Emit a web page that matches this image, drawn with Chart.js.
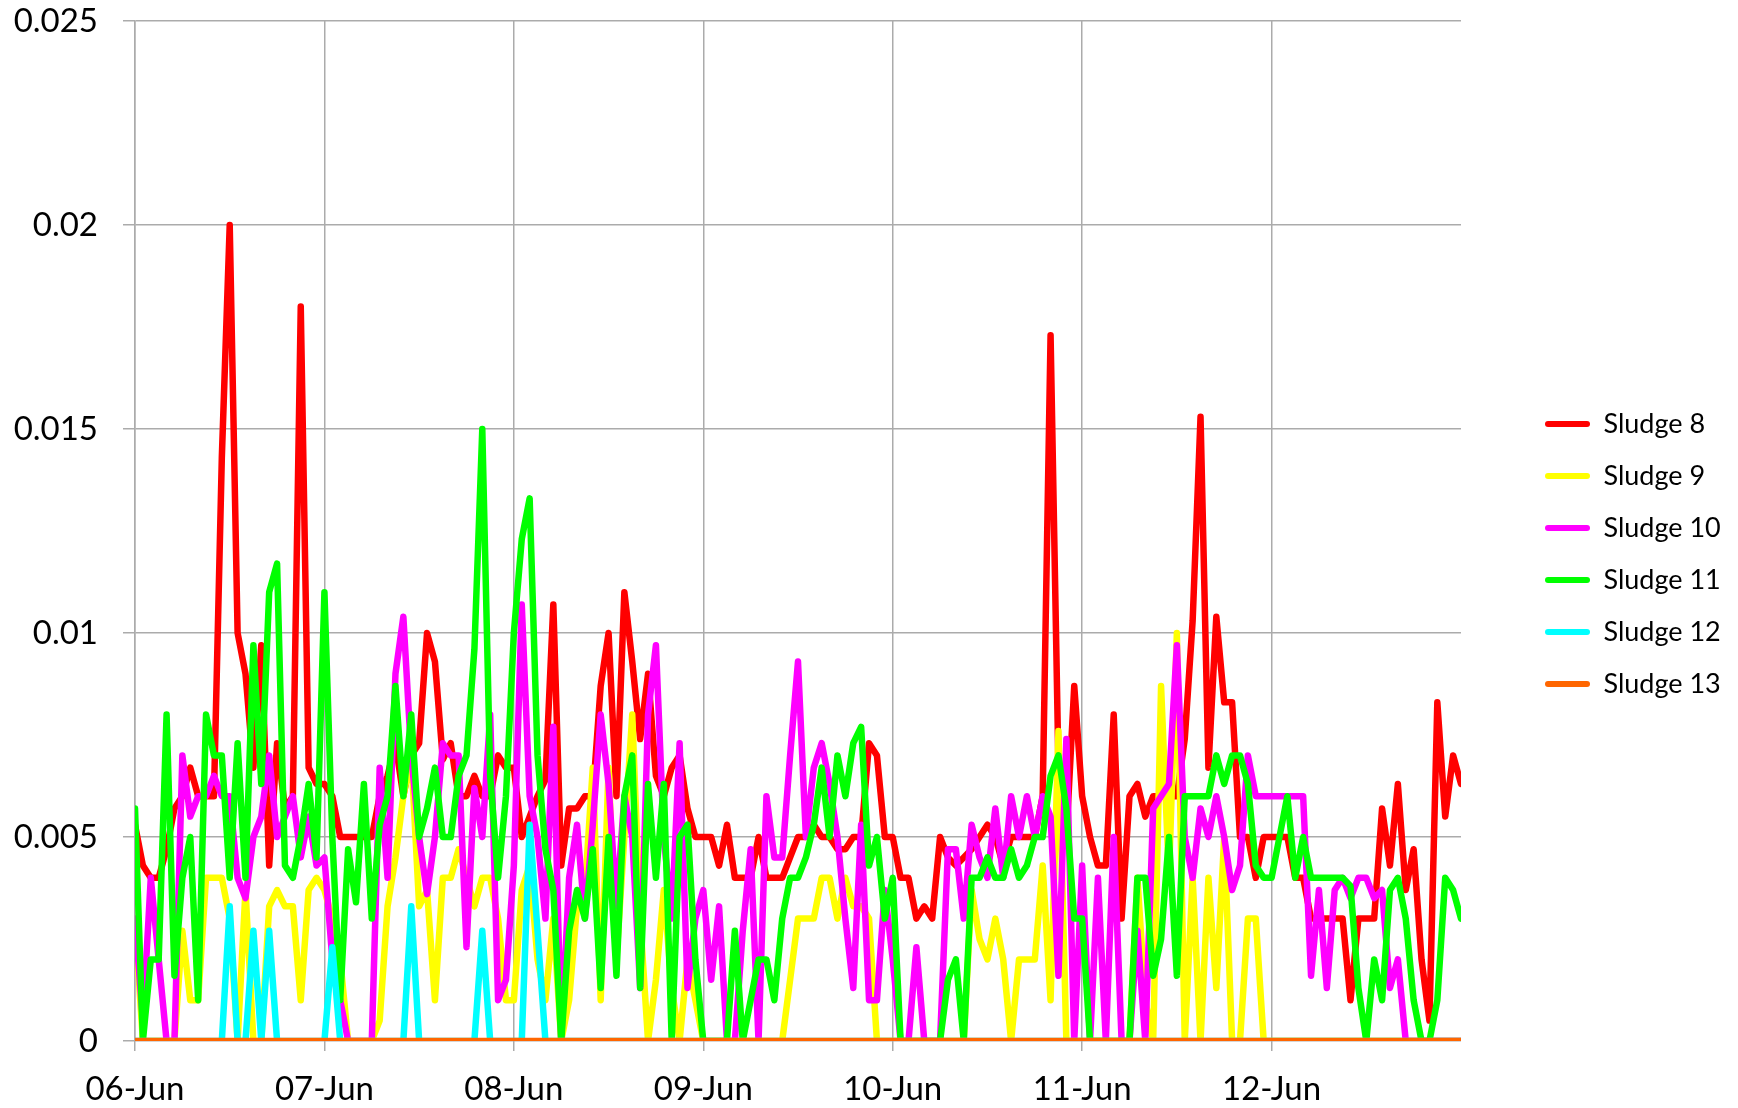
<!DOCTYPE html>
<html>
<head>
<meta charset="utf-8">
<title>Sludge 8 - 13</title>
<script src="https://cdn.jsdelivr.net/npm/chart.js@4.4.1/dist/chart.umd.min.js"></script>
<style>
  html, body { margin: 0; padding: 0; background: #fff; }
  #chart { display: block; }
</style>
</head>
<body>
<canvas id="chart" width="1738" height="1108"></canvas>
<script>
// --- Labels ---
const dayLabels = ['06-Jun', '07-Jun', '08-Jun', '09-Jun', '10-Jun', '11-Jun', '12-Jun', ''];
const yTickLabels = ['0', '0.005', '0.01', '0.015', '0.02', '0.025'];
const seriesNames = ['Sludge 8', 'Sludge 9', 'Sludge 10', 'Sludge 11', 'Sludge 12', 'Sludge 13'];
const seriesColors = ['#ff0000', '#ffff00', '#ff00ff', '#00ff00', '#00ffff', '#ff6600'];

// --- Data: hourly readings, 06-Jun 00:00 .. 13-Jun 00:00 (hour index) ---
const hours = Array.from({ length: 169 }, (_, i) => i);

const sludge8 = [
  0.0053, 0.0043, 0.004, 0.004, 0.0047, 0.0057, 0.006, 0.0067, 0.006, 0.006, 0.006, 0.0143, 0.02, 0.01, 0.009, 0.0067, 0.0097, 0.0043, 0.0073, 0.0057, 0.006, 0.018, 0.0067, 0.0063, // 06-Jun
  0.0063, 0.006, 0.005, 0.005, 0.005, 0.005, 0.005, 0.006, 0.0065, 0.0073, 0.006, 0.007, 0.0073, 0.01, 0.0093, 0.0069, 0.0073, 0.006, 0.006, 0.0065, 0.006, 0.006, 0.007, 0.0067, // 07-Jun
  0.0067, 0.005, 0.0055, 0.006, 0.0064, 0.0107, 0.0043, 0.0057, 0.0057, 0.006, 0.006, 0.0087, 0.01, 0.006, 0.011, 0.0093, 0.0074, 0.009, 0.0065, 0.006, 0.0067, 0.007, 0.0057, 0.005, // 08-Jun
  0.005, 0.005, 0.0043, 0.0053, 0.004, 0.004, 0.004, 0.005, 0.004, 0.004, 0.004, 0.0045, 0.005, 0.005, 0.0053, 0.005, 0.005, 0.0047, 0.0047, 0.005, 0.005, 0.0073, 0.007, 0.005, // 09-Jun
  0.005, 0.004, 0.004, 0.003, 0.0033, 0.003, 0.005, 0.0045, 0.0043, 0.0045, 0.0047, 0.005, 0.0053, 0.005, 0.0043, 0.005, 0.005, 0.005, 0.005, 0.006, 0.0173, 0.0067, 0.005, 0.0087, // 10-Jun
  0.006, 0.005, 0.0043, 0.0043, 0.008, 0.003, 0.006, 0.0063, 0.0055, 0.006, 0.006, 0.006, 0.006, 0.0074, 0.0103, 0.0153, 0.0067, 0.0104, 0.0083, 0.0083, 0.005, 0.005, 0.004, 0.005, // 11-Jun
  0.005, 0.005, 0.005, 0.004, 0.004, 0.003, 0.003, 0.003, 0.003, 0.003, 0.001, 0.003, 0.003, 0.003, 0.0057, 0.0043, 0.0063, 0.0037, 0.0047, 0.002, 0.0005, 0.0083, 0.0055, 0.007, // 12-Jun
  0.0063
];

const sludge9 = [
  0.003, 0, 0, 0, 0, 0, 0.0027, 0.001, 0.001, 0.004, 0.004, 0.004, 0.003, 0, 0.0037, 0, 0, 0.0033, 0.0037, 0.0033, 0.0033, 0.001, 0.0037, 0.004,
  0.0037, 0.003, 0.002, 0, 0, 0, 0, 0.0005, 0.0033, 0.0045, 0.006, 0.007, 0.0033, 0.0037, 0.001, 0.004, 0.004, 0.0047, 0.004, 0.0033, 0.004, 0.004, 0.003, 0.001,
  0.001, 0.0037, 0.0043, 0.002, 0.001, 0.003, 0, 0.001, 0.0033, 0.0037, 0.0067, 0.001, 0.0067, 0.002, 0.005, 0.008, 0.003, 0, 0.0015, 0.0037, 0.0013, 0, 0.002, 0.001,
  0, 0, 0, 0, 0, 0, 0, 0, 0, 0, 0, 0.0015, 0.003, 0.003, 0.003, 0.004, 0.004, 0.003, 0.004, 0.0033, 0.0033, 0.003, 0, 0,
  0, 0, 0, 0, 0, 0, 0, 0, 0, 0, 0.0037, 0.0025, 0.002, 0.003, 0.002, 0, 0.002, 0.002, 0.002, 0.0043, 0.001, 0.0076, 0, 0,
  0, 0, 0, 0, 0, 0, 0, 0.004, 0.001, 0, 0.0087, 0.004, 0.01, 0, 0.004, 0, 0.004, 0.0013, 0.005, 0, 0, 0.003, 0.003, 0,
  0, 0, 0, 0, 0, 0, 0, 0, 0, 0, 0, 0, 0, 0, 0, 0, 0, 0, 0, 0, 0, 0, 0, 0,
  0
];

const sludge10 = [
  0.003, 0.0005, 0.004, 0.002, 0, 0, 0.007, 0.0055, 0.006, 0.006, 0.0065, 0.006, 0.006, 0.004, 0.0035, 0.005, 0.0055, 0.007, 0.005, 0.0055, 0.006, 0.0045, 0.0055, 0.0043,
  0.0045, 0.002, 0.001, 0, 0, 0, 0, 0.0067, 0.004, 0.009, 0.0104, 0.007, 0.005, 0.0036, 0.005, 0.0073, 0.007, 0.007, 0.0023, 0.0062, 0.005, 0.008, 0.001, 0.0015,
  0.0043, 0.0107, 0.006, 0.005, 0.003, 0.0077, 0, 0.004, 0.0053, 0.003, 0.0053, 0.008, 0.0063, 0.0033, 0.006, 0.005, 0.0013, 0.008, 0.0097, 0.005, 0.003, 0.0073, 0.0013, 0.003,
  0.0037, 0.0015, 0.0033, 0, 0, 0.0027, 0.0047, 0, 0.006, 0.0045, 0.0045, 0.007, 0.0093, 0.005, 0.0067, 0.0073, 0.0063, 0.005, 0.003, 0.0013, 0.0053, 0.001, 0.001, 0.0037,
  0.002, 0, 0, 0.0023, 0, 0, 0, 0.0047, 0.0047, 0.003, 0.0053, 0.0045, 0.004, 0.0057, 0.004, 0.006, 0.005, 0.006, 0.005, 0.006, 0.0055, 0.0016, 0.0074, 0,
  0.0043, 0, 0.004, 0, 0.005, 0, 0, 0.0027, 0, 0.0057, 0.006, 0.0063, 0.0097, 0.005, 0.004, 0.0057, 0.005, 0.006, 0.005, 0.0037, 0.0043, 0.007, 0.006, 0.006,
  0.006, 0.006, 0.006, 0.006, 0.006, 0.0016, 0.0037, 0.0013, 0.0037, 0.004, 0.0035, 0.004, 0.004, 0.0035, 0.0037, 0.0013, 0.002, 0, 0, 0, 0, 0, 0, 0,
  0
];

const sludge11 = [
  0.0057, 0, 0.002, 0.002, 0.008, 0.0016, 0.004, 0.005, 0.001, 0.008, 0.007, 0.007, 0.004, 0.0073, 0.004, 0.0097, 0.0063, 0.011, 0.0117, 0.0043, 0.004, 0.005, 0.0063, 0.0045,
  0.011, 0.005, 0.001, 0.0047, 0.0034, 0.0063, 0.003, 0.0053, 0.006, 0.0087, 0.006, 0.008, 0.005, 0.0057, 0.0067, 0.005, 0.005, 0.0065, 0.007, 0.0096, 0.015, 0.0065, 0.004, 0.006,
  0.01, 0.0123, 0.0133, 0.007, 0.0047, 0.0037, 0, 0.0027, 0.0037, 0.003, 0.0047, 0.0013, 0.005, 0.0016, 0.006, 0.007, 0.0013, 0.0063, 0.004, 0.0063, 0, 0.005, 0.0053, 0.002,
  0, 0, 0, 0, 0.0027, 0, 0.001, 0.002, 0.002, 0.001, 0.003, 0.004, 0.004, 0.0045, 0.0053, 0.0067, 0.005, 0.007, 0.006, 0.0073, 0.0077, 0.0043, 0.005, 0.003,
  0.004, 0, 0, 0, 0, 0, 0, 0.0015, 0.002, 0, 0.004, 0.004, 0.0045, 0.004, 0.004, 0.0047, 0.004, 0.0043, 0.005, 0.005, 0.0065, 0.007, 0.0057, 0.003,
  0.003, 0, 0, 0, 0, 0, 0, 0.004, 0.004, 0.0016, 0.0025, 0.005, 0.0016, 0.006, 0.006, 0.006, 0.006, 0.007, 0.0063, 0.007, 0.007, 0.0063, 0.0043, 0.004,
  0.004, 0.005, 0.006, 0.004, 0.005, 0.004, 0.004, 0.004, 0.004, 0.004, 0.0038, 0.0013, 0, 0.002, 0.001, 0.0037, 0.004, 0.003, 0.001, 0, 0, 0.001, 0.004, 0.0037,
  0.003
];

// Sludge 12 is zero except for a few short peaks
const sludge12Hours = [0, 11, 12, 13, 14, 15, 16, 17, 18, 24, 25, 26, 34, 35, 36, 43, 44, 45, 49, 50, 51, 52, 168];
const sludge12 = [0, 0, 0.0033, 0, 0, 0.0027, 0, 0.0027, 0, 0, 0.0023, 0, 0, 0.0033, 0, 0, 0.0027, 0, 0, 0.0053, 0.0027, 0, 0];

// Sludge 13 stays at zero the whole week
const sludge13Hours = [0, 168];
const sludge13 = [0, 0];

// --- Layout ---
const W = 1738, H = 1108;
const PLOT_LEFT = 135, PLOT_RIGHT = 1461, PLOT_TOP = 21, PLOT_BOTTOM = 1041;
const GRID = '#ababab';
const TICK_FONT = { family: 'Lato', size: 33 };
const LEGEND_FONT = { family: 'Lato', size: 27 };
const LEGEND_PAD = 25, LEGEND_BOX_W = 45, LEGEND_BOX_X = 1545;

const measureCtx = document.createElement('canvas').getContext('2d');
measureCtx.font = `${LEGEND_FONT.size}px ${LEGEND_FONT.family}`;
const legendTextW = Math.max(...seriesNames.map(n => measureCtx.measureText(n).width));
const legendW = LEGEND_PAD + LEGEND_BOX_W + LEGEND_FONT.size / 2 + legendTextW + 10;
const legendLeft = LEGEND_BOX_X - LEGEND_PAD;
const padRight = Math.max(0, W - legendLeft - legendW);
const gapW = legendLeft - PLOT_RIGHT;

const series = [
    [hours, sludge8], [hours, sludge9], [hours, sludge10],
    [hours, sludge11], [sludge12Hours, sludge12], [sludge13Hours, sludge13]
];

const datasets = series.map(([xs, ys], i) => ({
    label: seriesNames[i],
    data: xs.map((x, k) => ({ x, y: ys[k] })),
    borderColor: seriesColors[i],
    backgroundColor: seriesColors[i],
    borderWidth: 6.5,
    pointRadius: 0,
    tension: 0,
    borderJoinStyle: 'round',
    borderCapStyle: 'round',
    order: series.length - i // later series drawn on top
}));

new Chart(document.getElementById('chart'), {
    type: 'line',
    data: { datasets },
    options: {
        responsive: false,
        animation: false,
        devicePixelRatio: 1,
        layout: { padding: { left: 0, right: padRight, top: 0, bottom: 0 } },
        plugins: {
            tooltip: { enabled: false },
            legend: {
                position: 'right',
                align: 'center',
                labels: {
                    color: '#000',
                    font: LEGEND_FONT,
                    boxWidth: LEGEND_BOX_W,
                    boxHeight: 6,
                    padding: LEGEND_PAD,
                    useBorderRadius: true,
                    borderRadius: 3,
                    sort: (a, b) => a.datasetIndex - b.datasetIndex,
                    generateLabels: (chart) => Chart.defaults.plugins.legend.labels.generateLabels(chart)
                        .map(item => ({ ...item, fillStyle: item.strokeStyle, lineWidth: 0 }))
                }
            }
        },
        scales: {
            x: {
                type: 'linear',
                min: 0,
                max: 168,
                ticks: {
                    stepSize: 24,
                    autoSkip: false,
                    maxRotation: 0,
                    padding: 19,
                    color: '#000',
                    font: TICK_FONT,
                    callback: (v) => dayLabels[Math.round(v / 24)]
                },
                grid: {
                    color: (ctx) => (ctx.tick && ctx.tick.value === 168) ? 'rgba(0,0,0,0)' : GRID,
                    lineWidth: 1.5,
                    tickLength: 10
                },
                border: { display: false },
                afterFit: (scale) => { scale.height = H - PLOT_BOTTOM; }
            },
            y: {
                min: 0,
                max: 0.025,
                ticks: {
                    stepSize: 0.005,
                    padding: 25,
                    color: '#000',
                    font: TICK_FONT,
                    callback: (v, i) => yTickLabels[i]
                },
                grid: { color: GRID, lineWidth: 1.5, tickLength: 12 },
                border: { color: GRID, width: 1.5 },
                afterFit: (scale) => {
                    scale.width = PLOT_LEFT;
                    scale.paddingTop = PLOT_TOP;
                    scale.paddingBottom = 0;
                }
            },
            // empty axis that keeps the gap between plot and legend
            gap: {
                type: 'linear',
                position: 'right',
                grid: { display: false },
                ticks: { display: false },
                border: { display: false },
                afterFit: (scale) => { scale.width = gapW; }
            }
        }
    }
});
</script>
</body>
</html>
